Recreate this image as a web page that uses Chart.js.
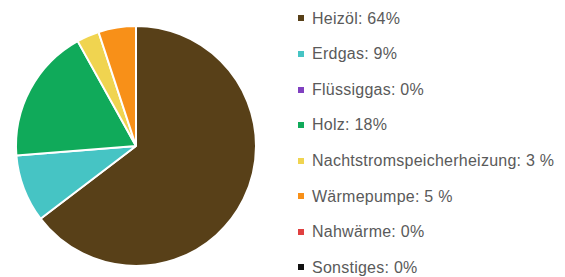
<!DOCTYPE html>
<html>
<head>
<meta charset="utf-8">
<script src="https://cdn.jsdelivr.net/npm/chart.js@4.4.1/dist/chart.umd.min.js"></script>
<style>
  body { margin: 0; background: #fff; }
  #wrap { position: relative; width: 565px; height: 277px; overflow: hidden; }
  #pieBox { position: absolute; left: 0; top: 0; width: 280px; height: 277px; }
  #legend { position: absolute; left: 298px; top: 0.7px; margin: 0; padding: 0; list-style: none;
            font-family: "Liberation Sans", Arial, sans-serif; font-size: 16px; color: #5a5a5a; letter-spacing: 0.25px; }
  #legend li { height: 35.57px; line-height: 35.57px; white-space: nowrap; }
  #legend span.box { display: inline-block; width: 6px; height: 6px; margin-right: 8px; vertical-align: middle; position: relative; top: -1px; }
</style>
</head>
<body>
<div id="wrap">
  <div id="pieBox"><canvas id="mycanvas"></canvas></div>
  <ul id="legend"></ul>
</div>
<script>
var heizung = ['Heizöl', 'Erdgas', 'Flüssiggas', 'Holz', 'Nachtstromspeicherheizung', 'Wärmepumpe', 'Nahwärme', 'Sonstiges'];
var anteil = [64, 9, 0, 18, 3, 5, 0, 0];
var legendText = ['Heizöl: 64%', 'Erdgas: 9%', 'Flüssiggas: 0%', 'Holz: 18%', 'Nachtstromspeicherheizung: 3 %', 'Wärmepumpe: 5 %', 'Nahwärme: 0%', 'Sonstiges: 0%'];
var farben = ['#584018', '#46c4c4', '#8040c0', '#10aa5a', '#f0d450', '#f89018', '#e04040', '#111111'];

var ctx = document.getElementById('mycanvas');
var pieChart = new Chart(ctx, {
    type: 'pie',
    data: {
        labels: heizung,
        datasets: [{
            data: anteil,
            backgroundColor: farben,
            borderColor: '#ffffff',
            borderWidth: 2,
            hoverOffset: 0
        }]
    },
    options: {
        responsive: true,
        maintainAspectRatio: false,
        animation: false,
        layout: { padding: { left: 14, right: 22, top: 25, bottom: 10 } },
        plugins: {
            legend: { display: false },
            tooltip: { enabled: false }
        }
    }
});

// legend from the same arrays
var ul = document.getElementById('legend');
for (var i in heizung) {
    var li = document.createElement('li');
    var box = document.createElement('span');
    box.className = 'box';
    box.style.background = farben[i];
    li.appendChild(box);
    li.appendChild(document.createTextNode(legendText[i]));
    ul.appendChild(li);
}
</script>
</body>
</html>
